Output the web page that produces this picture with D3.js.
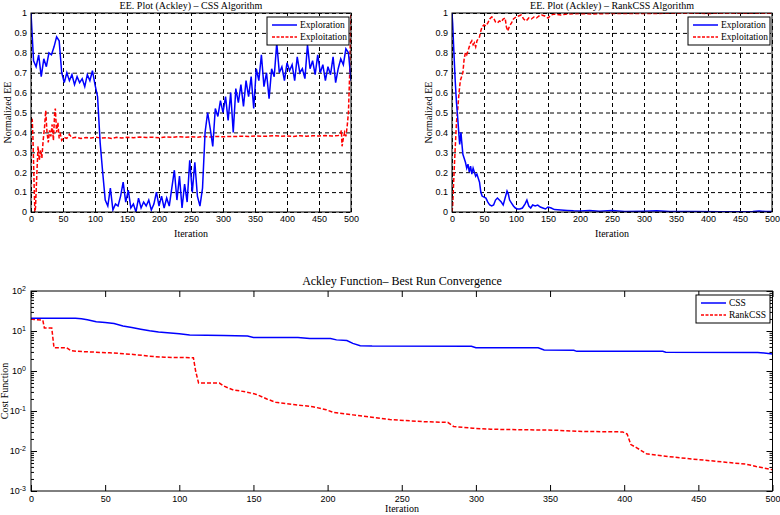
<!DOCTYPE html>
<html>
<head>
<meta charset="utf-8">
<script src="https://cdn.jsdelivr.net/npm/d3@7.9.0/dist/d3.min.js"></script>
<style>
  body { margin: 0; background: #fff; }
  .serif { font-family: "Liberation Serif", "Times New Roman", serif; fill: #000; }
</style>
</head>
<body>
<svg id="chart" width="780" height="515"></svg>
<script>
// ---- data ----
const eeXTicks = [0, 50, 100, 150, 200, 250, 300, 350, 400, 450, 500];
const eeYTicks = [0, 0.1, 0.2, 0.3, 0.4, 0.5, 0.6, 0.7, 0.8, 0.9, 1];

// CSS exploration, sampled every 4 iterations (0..500)
const cssExploreStep = 4;
const cssExplore = [
  1.00, 0.76, 0.73, 0.79, 0.68, 0.77, 0.73, 0.80, 0.79, 0.83,
  0.88, 0.86, 0.70, 0.65, 0.70, 0.66, 0.69, 0.64, 0.68, 0.65,
  0.67, 0.63, 0.69, 0.66, 0.71, 0.64, 0.58, 0.35, 0.20, 0.06,
  0.03, 0.12, 0.01, 0.04, 0.03, 0.08, 0.15, 0.05, 0.11, 0.02,
  0.04, 0.00, 0.07, 0.02, 0.05, 0.03, 0.06, 0.01, 0.04, 0.10,
  0.03, 0.08, 0.02, 0.07, 0.03, 0.12, 0.21, 0.06, 0.18, 0.02,
  0.14, 0.05, 0.26, 0.10, 0.25, 0.08, 0.03, 0.12, 0.40, 0.50,
  0.42, 0.33, 0.52, 0.48, 0.56, 0.50, 0.58, 0.46, 0.60, 0.40,
  0.62, 0.55, 0.64, 0.53, 0.66, 0.58, 0.68, 0.52, 0.72, 0.66,
  0.79, 0.63, 0.70, 0.57, 0.72, 0.68, 0.85, 0.70, 0.73, 0.66,
  0.75, 0.71, 0.74, 0.66, 0.78, 0.70, 0.72, 0.67, 0.84, 0.72,
  0.76, 0.69, 0.79, 0.70, 0.74, 0.66, 0.73, 0.69, 0.78, 0.65,
  0.72, 0.77, 0.74, 0.82, 0.80, 0.66
];

// CSS exploitation [iteration, value]
const cssExploit = [
  [0, 0.45], [2, 0.46], [3, 0.38], [5, 0.12], [6, 0.0], [7, 0.02], [9, 0.18], [11, 0.33],
  [13, 0.26], [15, 0.31], [17, 0.27], [19, 0.36], [21, 0.42], [23, 0.51], [25, 0.40],
  [27, 0.35], [29, 0.41], [31, 0.38], [33, 0.44], [35, 0.36], [37, 0.50], [38, 0.52],
  [40, 0.40], [42, 0.45], [44, 0.37], [46, 0.39], [48, 0.36], [52, 0.375], [56, 0.37],
  [60, 0.39], [64, 0.372], [70, 0.375], [78, 0.37], [86, 0.374], [94, 0.372], [102, 0.376],
  [110, 0.371], [118, 0.374], [126, 0.37], [134, 0.375], [142, 0.372], [150, 0.376],
  [160, 0.373], [170, 0.377], [180, 0.374], [190, 0.376], [200, 0.373], [210, 0.377],
  [220, 0.375], [230, 0.378], [240, 0.376], [250, 0.378], [260, 0.376], [270, 0.379],
  [280, 0.377], [290, 0.38], [300, 0.378], [310, 0.38], [320, 0.379], [330, 0.381],
  [340, 0.379], [350, 0.382], [360, 0.38], [370, 0.381], [380, 0.383], [390, 0.381],
  [400, 0.382], [410, 0.38], [420, 0.383], [430, 0.381], [440, 0.383], [450, 0.382],
  [460, 0.384], [470, 0.382], [480, 0.384], [483, 0.39], [485, 0.41], [486, 0.33],
  [488, 0.37], [490, 0.40], [492, 0.38], [494, 0.43], [496, 0.50], [498, 0.70],
  [499, 0.88], [500, 0.99]
];

// RankCSS exploration [iteration, value]
const rankExplore = [
  [0, 1.0], [1, 0.95], [3, 0.80], [5, 0.66], [7, 0.55], [9, 0.47], [11, 0.38], [12, 0.34],
  [14, 0.40], [15, 0.36], [17, 0.29], [19, 0.27], [21, 0.25], [23, 0.22], [25, 0.24],
  [27, 0.20], [29, 0.23], [31, 0.19], [33, 0.22], [35, 0.20], [37, 0.18], [39, 0.19],
  [41, 0.17], [43, 0.15], [45, 0.10], [47, 0.08], [50, 0.075], [53, 0.07], [56, 0.05],
  [59, 0.035], [62, 0.03], [65, 0.035], [68, 0.06], [71, 0.07], [74, 0.06], [77, 0.05],
  [80, 0.035], [83, 0.07], [86, 0.105], [88, 0.09], [90, 0.06], [93, 0.045], [96, 0.03],
  [99, 0.02], [102, 0.015], [106, 0.015], [110, 0.02], [114, 0.04], [117, 0.06], [120, 0.03],
  [123, 0.02], [126, 0.035], [130, 0.03], [134, 0.035], [138, 0.025], [142, 0.02],
  [146, 0.015], [150, 0.025], [155, 0.02], [160, 0.012], [170, 0.01], [180, 0.008],
  [190, 0.006], [200, 0.005], [215, 0.008], [230, 0.004], [250, 0.007], [270, 0.003],
  [300, 0.004], [320, 0.006], [340, 0.002], [380, 0.002], [420, 0.001], [470, 0.002],
  [480, 0.005], [490, 0.002], [500, 0.002]
];

// RankCSS exploitation [iteration, value]
const rankExploit = [
  [0, 0.0], [1, 0.03], [3, 0.18], [5, 0.32], [7, 0.45], [9, 0.52], [11, 0.60], [13, 0.66],
  [15, 0.68], [17, 0.70], [19, 0.77], [21, 0.80], [23, 0.79], [25, 0.81], [27, 0.83],
  [29, 0.85], [31, 0.86], [33, 0.84], [35, 0.85], [37, 0.83], [39, 0.86], [41, 0.87],
  [43, 0.88], [45, 0.91], [47, 0.93], [50, 0.94], [53, 0.935], [56, 0.95], [59, 0.97],
  [62, 0.98], [65, 0.975], [68, 0.955], [71, 0.95], [74, 0.96], [77, 0.955], [80, 0.97],
  [83, 0.975], [85, 0.93], [87, 0.91], [90, 0.935], [93, 0.95], [96, 0.97], [100, 0.98],
  [104, 0.985], [108, 0.99], [112, 0.97], [116, 0.96], [120, 0.975], [124, 0.97],
  [128, 0.98], [132, 0.975], [136, 0.985], [140, 0.99], [145, 0.985], [150, 0.975],
  [155, 0.99], [160, 0.995], [170, 0.99], [180, 0.995], [200, 0.997], [220, 0.995],
  [250, 0.998], [300, 0.997], [350, 0.999], [400, 0.998], [450, 0.999], [500, 0.999]
];

// best-run convergence [iteration, cost]
const convXTicks = [0, 50, 100, 150, 200, 250, 300, 350, 400, 450, 500];
const convYDecades = [-3, -2, -1, 0, 1, 2];
const cssBest = [
  [0, 20.7], [30, 20.7], [34, 20.2], [38, 19], [44, 17.1], [50, 16.2], [56, 15.3], [62, 13.4],
  [68, 12.2], [74, 11.1], [80, 10.2], [86, 9.5], [92, 9.0], [100, 8.5], [107, 7.9], [130, 7.7],
  [146, 7.5], [150, 6.9], [180, 6.9], [188, 6.5], [202, 6.5], [206, 6.0], [213, 5.8],
  [217, 4.9], [222, 4.3], [230, 4.2], [297, 4.15], [300, 3.8], [342, 3.8], [346, 3.35],
  [366, 3.3], [368, 3.1], [426, 3.1], [428, 2.95], [490, 2.92], [500, 2.66]
];
const rankBest = [
  [0, 20], [2, 19.5], [8, 18.5], [9, 11.9], [14, 11.9], [15.5, 3.8], [24, 3.8], [27, 3.2],
  [35, 3.05], [53, 2.85], [69, 2.6], [80, 2.35], [90, 2.2], [109.5, 2.15], [111, 1.0],
  [113, 0.5], [127, 0.5], [130, 0.42], [136, 0.34], [145, 0.30], [152, 0.26], [159, 0.2],
  [165, 0.165], [177, 0.145], [190, 0.128], [199, 0.108], [204, 0.092], [217, 0.08],
  [226, 0.073], [242, 0.061], [265, 0.054], [281, 0.052], [285, 0.041], [298, 0.037],
  [310, 0.035], [332, 0.034], [355, 0.033], [368, 0.031], [399, 0.030], [402, 0.0265],
  [404.5, 0.0145], [408.5, 0.012], [415, 0.0085], [426, 0.0075], [444, 0.0064],
  [467, 0.0053], [482, 0.0047], [489, 0.0041], [500, 0.0034]
];

// ---- drawing ----
const svg = d3.select('#chart');
const SANS = '"Liberation Sans", Arial, Helvetica, sans-serif';
const BLUE = '#0000ff';
const RED = '#ff0000';
const eeTop = 13, eeBottom = 212;

function legend(g, x, y, w, h, items) {
  const lg = g.append('g').attr('transform', `translate(${x},${y})`);
  lg.append('rect').attr('width', w).attr('height', h)
    .attr('fill', '#fff').attr('stroke', '#000').attr('stroke-width', 1);
  items.forEach((it, i) => {
    const yy = h * (i + 0.5) / items.length + (i === 0 ? 1 : -1);
    lg.append('line').attr('x1', 5).attr('x2', 30).attr('y1', yy).attr('y2', yy)
      .attr('stroke', it.color).attr('stroke-width', 1.5)
      .attr('stroke-dasharray', it.dash || null);
    lg.append('text').attr('class', 'serif').attr('x', 33).attr('y', yy)
      .attr('dy', '0.35em').attr('font-size', 9.5).text(it.label);
  });
}

function eePanel(cfg) {
  const x = d3.scaleLinear().domain([0, 500]).range([cfg.x0, cfg.x1]);
  const y = d3.scaleLinear().domain([0, 1]).range([eeBottom, eeTop]);
  const g = svg.append('g');

  const xa = g.append('g').attr('transform', `translate(0,${eeBottom})`)
    .call(d3.axisBottom(x).tickValues(eeXTicks).tickSize(-(eeBottom - eeTop))
      .tickPadding(4).tickFormat(d3.format('d')));
  const ya = g.append('g').attr('transform', `translate(${cfg.x0},0)`)
    .call(d3.axisLeft(y).tickValues(eeYTicks).tickSize(-(cfg.x1 - cfg.x0))
      .tickPadding(4).tickFormat(d3.format('~g')));
  [xa, ya].forEach(a => {
    a.attr('font-family', SANS).attr('font-size', 9);
    a.select('.domain').remove();
    a.selectAll('.tick line').attr('stroke', '#000').attr('stroke-dasharray', '4,3');
    a.selectAll('.tick text').attr('fill', '#000');
  });

  const clipId = 'clip-' + cfg.id;
  g.append('clipPath').attr('id', clipId).append('rect')
    .attr('x', cfg.x0).attr('y', eeTop).attr('width', cfg.x1 - cfg.x0).attr('height', eeBottom - eeTop);

  const line = d3.line().x(d => x(d[0])).y(d => y(d[1]));
  const lines = g.append('g').attr('clip-path', `url(#${clipId})`);
  lines.append('path').datum(cfg.exploit).attr('d', line)
    .attr('fill', 'none').attr('stroke', RED).attr('stroke-width', 1.5).attr('stroke-dasharray', '4,2');
  lines.append('path').datum(cfg.explore).attr('d', line)
    .attr('fill', 'none').attr('stroke', BLUE).attr('stroke-width', 1.5);

  g.append('rect').attr('x', cfg.x0).attr('y', eeTop)
    .attr('width', cfg.x1 - cfg.x0).attr('height', eeBottom - eeTop)
    .attr('fill', 'none').attr('stroke', '#000').attr('stroke-width', 1);

  g.append('text').attr('class', 'serif').attr('x', (cfg.x0 + cfg.x1) / 2).attr('y', 9)
    .attr('text-anchor', 'middle').attr('font-size', 10).text(cfg.title);
  g.append('text').attr('class', 'serif').attr('x', (cfg.x0 + cfg.x1) / 2).attr('y', 237)
    .attr('text-anchor', 'middle').attr('font-size', 10).text('Iteration');
  g.append('text').attr('class', 'serif')
    .attr('transform', `translate(${cfg.yLabX},${(eeTop + eeBottom) / 2}) rotate(-90)`)
    .attr('text-anchor', 'middle').attr('font-size', 10).text('Normalized EE');

  legend(g, cfg.x1 - 84, 17, 82, 28, [
    { label: 'Exploration', color: BLUE },
    { label: 'Exploitation', color: RED, dash: '3,1.5' }
  ]);
}

eePanel({
  id: 'css', x0: 31, x1: 351, yLabX: 11,
  title: 'EE. Plot (Ackley) \u2013 CSS Algorithm',
  explore: cssExplore.map((v, i) => [i * cssExploreStep, v]),
  exploit: cssExploit
});
eePanel({
  id: 'rank', x0: 452, x1: 772, yLabX: 432,
  title: 'EE. Plot (Ackley) \u2013 RankCSS Algorithm',
  explore: rankExplore,
  exploit: rankExploit
});

// ---- convergence panel ----
function convPanel() {
  const x0 = 31, x1 = 772.5, top = 291, bottom = 491;
  const x = d3.scaleLinear().domain([0, 500]).range([x0, x1]);
  const y = d3.scaleLog().domain([1e-3, 1e2]).range([bottom, top]);
  const g = svg.append('g');

  const majors = convYDecades.map(e => Math.pow(10, e));
  const minors = [];
  majors.slice(0, -1).forEach(m => { for (let k = 2; k <= 9; k++) minors.push(m * k); });

  const styleAxis = a => {
    a.attr('font-family', SANS).attr('font-size', 9);
    a.select('.domain').remove();
    a.selectAll('.tick line').attr('stroke', '#000');
    a.selectAll('.tick text').attr('fill', '#000');
  };

  styleAxis(g.append('g').attr('transform', `translate(0,${bottom})`)
    .call(d3.axisBottom(x).tickValues(convXTicks).tickSize(-6).tickPadding(5).tickFormat(d3.format('d'))));
  styleAxis(g.append('g').attr('transform', `translate(0,${top})`)
    .call(d3.axisTop(x).tickValues(convXTicks).tickSize(-6).tickFormat('')));

  const yl = g.append('g').attr('transform', `translate(${x0},0)`)
    .call(d3.axisLeft(y).tickValues(majors).tickSize(-6).tickPadding(5).tickFormat(() => ''));
  styleAxis(yl);
  yl.selectAll('.tick text').each(function (d) {
    const t = d3.select(this);
    t.append('tspan').text('10');
    t.append('tspan').attr('dy', '-0.45em').attr('font-size', 7).text(Math.round(Math.log10(d)));
  });
  styleAxis(g.append('g').attr('transform', `translate(${x0},0)`)
    .call(d3.axisLeft(y).tickValues(minors).tickSize(-3).tickFormat('')));
  styleAxis(g.append('g').attr('transform', `translate(${x1},0)`)
    .call(d3.axisRight(y).tickValues(majors).tickSize(-6).tickFormat('')));
  styleAxis(g.append('g').attr('transform', `translate(${x1},0)`)
    .call(d3.axisRight(y).tickValues(minors).tickSize(-3).tickFormat('')));

  const line = d3.line().x(d => x(d[0])).y(d => y(d[1]));
  g.append('path').datum(rankBest).attr('d', line)
    .attr('fill', 'none').attr('stroke', RED).attr('stroke-width', 1.5).attr('stroke-dasharray', '4,2');
  g.append('path').datum(cssBest).attr('d', line)
    .attr('fill', 'none').attr('stroke', BLUE).attr('stroke-width', 1.5);

  g.append('rect').attr('x', x0).attr('y', top).attr('width', x1 - x0).attr('height', bottom - top)
    .attr('fill', 'none').attr('stroke', '#000').attr('stroke-width', 1);

  g.append('text').attr('class', 'serif').attr('x', 402).attr('y', 285)
    .attr('text-anchor', 'middle').attr('font-size', 12).text('Ackley Function\u2013 Best Run Convergence');
  g.append('text').attr('class', 'serif').attr('x', 402).attr('y', 512)
    .attr('text-anchor', 'middle').attr('font-size', 10).text('Iteration');
  g.append('text').attr('class', 'serif')
    .attr('transform', `translate(8,${(top + bottom) / 2}) rotate(-90)`)
    .attr('text-anchor', 'middle').attr('font-size', 10).text('Cost Function');

  legend(g, 696, 295, 74, 28, [
    { label: 'CSS', color: BLUE },
    { label: 'RankCSS', color: RED, dash: '3,1.5' }
  ]);
}
convPanel();
</script>
</body>
</html>
